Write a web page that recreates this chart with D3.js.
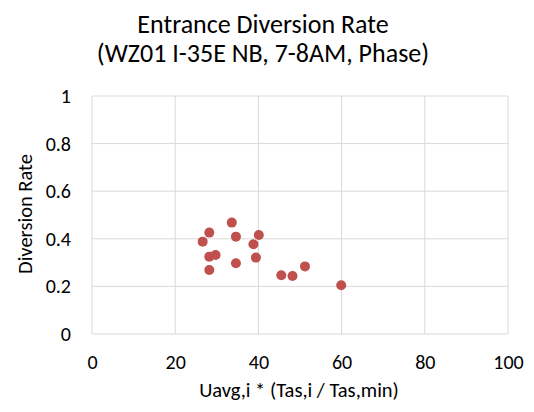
<!DOCTYPE html>
<html><head><meta charset="utf-8">
<script src="https://cdn.jsdelivr.net/npm/d3@7"></script>
<style>body{margin:0;background:#fff}</style>
</head><body>
<svg id="c" width="534" height="412"></svg>
<script>
const xVals = [33.6, 28.2, 26.6, 34.6, 40.1, 38.8, 28.2, 29.7, 39.4, 34.6, 28.2, 45.5, 48.2, 51.2, 59.9];
const yVals = [0.468, 0.426, 0.388, 0.409, 0.416, 0.377, 0.325, 0.332, 0.321, 0.297, 0.269, 0.247, 0.244, 0.284, 0.205];
const xTicks = [0, 20, 40, 60, 80, 100];
const yTicks = [0, 0.2, 0.4, 0.6, 0.8, 1];
const titleLines = ["Entrance Diversion Rate", "(WZ01 I-35E NB, 7-8AM, Phase)"];
const xTitle = "Uavg,i * (Tas,i / Tas,min)";
const yTitle = "Diversion Rate";

const svg = d3.select("#c");
const font = "Carlito, Calibri, Lato, 'Open Sans', sans-serif";
const L = 92, R = 508, T = 96, B = 334;
const x = d3.scaleLinear().domain([0, 100]).range([L, R]);
const y = d3.scaleLinear().domain([0, 1]).range([B, T]);

const grid = svg.append("g");
grid.selectAll(".gx").data(xTicks).join("line")
  .attr("x1", d => x(d)).attr("x2", d => x(d)).attr("y1", T).attr("y2", B)
  .attr("stroke", "#d9d9d9").attr("stroke-width", 1);
grid.selectAll(".gy").data(yTicks).join("line")
  .attr("x1", L).attr("x2", R).attr("y1", d => y(d)).attr("y2", d => y(d))
  .attr("stroke", "#d9d9d9").attr("stroke-width", 1);

const xa = svg.append("g").attr("transform", `translate(0,${B})`)
  .call(d3.axisBottom(x).tickValues(xTicks).tickSize(0).tickPadding(21).tickFormat(d3.format("d")));
xa.select(".domain").remove();
xa.selectAll("text").attr("font-family", font).attr("font-size", 20).attr("fill", "#000");

const ya = svg.append("g").attr("transform", `translate(${L},0)`)
  .call(d3.axisLeft(y).tickValues(yTicks).tickSize(0).tickPadding(21).tickFormat(d => String(d)));
ya.select(".domain").remove();
ya.selectAll("text").attr("font-family", font).attr("font-size", 20).attr("fill", "#000");

svg.selectAll(".pt").data(xVals).join("circle")
  .attr("cx", d => x(d)).attr("cy", (d, i) => y(yVals[i])).attr("r", 5)
  .attr("fill", "#c0504d");

svg.selectAll(".tl").data(titleLines).join("text")
  .attr("x", 263).attr("y", (d, i) => 33 + i * 29)
  .attr("text-anchor", "middle").attr("font-family", font).attr("font-size", 26)
  .attr("fill", "#000").text(d => d);

svg.append("text").attr("x", 299).attr("y", 397).attr("text-anchor", "middle")
  .attr("font-family", font).attr("font-size", 20.5).attr("fill", "#000").text(xTitle);
svg.append("text").attr("transform", "translate(32,214) rotate(-90)").attr("text-anchor", "middle")
  .attr("font-family", font).attr("font-size", 20.5).attr("fill", "#000").text(yTitle);
</script>
</body></html>
